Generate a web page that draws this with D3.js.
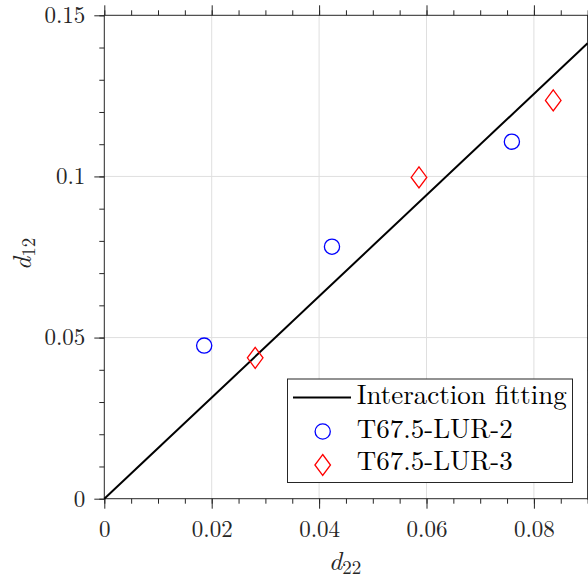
<!DOCTYPE html>
<html>
<head>
<meta charset="utf-8">
<script src="https://cdn.jsdelivr.net/npm/d3@7"></script>
<style>
  html, body { margin: 0; padding: 0; background: #fff; }
  svg { display: block; }
</style>
</head>
<body>
<svg id="chart" width="588" height="579"></svg>
<script>
// Measured pairs (d22, d12) for each specimen
const seriesLUR2_x = [0.0186, 0.0424, 0.0759];
const seriesLUR2_y = [0.0475, 0.0782, 0.1108];
const seriesLUR3_x = [0.0281, 0.0586, 0.0836];
const seriesLUR3_y = [0.0437, 0.0997, 0.1236];

// Linear interaction fit through the origin
const fitSlope = 1.57;
const fitX = [0, 0.09];

const xTicks = [0, 0.02, 0.04, 0.06, 0.08];
const xTickLabels = ["0", "0.02", "0.04", "0.06", "0.08"];
const yTicks = [0, 0.05, 0.1, 0.15];
const yTickLabels = ["0", "0.05", "0.1", "0.15"];

const legendLabels = ["Interaction fitting", "T67.5-LUR-2", "T67.5-LUR-3"];

const FONT = "'Latin Modern Roman', 'CMU Serif', 'Liberation Serif', serif";
const svg = d3.select("#chart").attr("font-family", FONT);
const pLeft = 104.3, pTop = 15.3, pRight = 587.6, pBottom = 498.7;
const axisColor = "#262626";
const tickFont = 23;
const legendFont = 27;

const x = d3.scaleLinear().domain([0, 0.09]).range([pLeft, pRight]);
const y = d3.scaleLinear().domain([0, 0.15]).range([pBottom, pTop]);

const xMinor = d3.range(0, 0.0901, 0.005);
const yMinor = d3.range(0, 0.1501, 0.01);

// grid
const grid = svg.append("g").attr("stroke", "#dfdfdf").attr("stroke-width", 1);
xTicks.filter(v => v > 0).forEach(v => {
  grid.append("line").attr("x1", x(v)).attr("x2", x(v)).attr("y1", pTop).attr("y2", pBottom);
});
yTicks.filter(v => v > 0 && v < 0.15).forEach(v => {
  grid.append("line").attr("x1", pLeft).attr("x2", pRight).attr("y1", y(v)).attr("y2", y(v));
});

// axes with outward ticks on all four sides
function drawAxis(axis, translate) {
  const g = svg.append("g").attr("transform", translate).call(axis)
    .attr("font-family", FONT).attr("font-size", tickFont);
  g.select(".domain").remove();
  g.selectAll("line").attr("stroke", axisColor);
  g.selectAll("text").attr("fill", axisColor);
  return g;
}
const noLabel = () => "";
drawAxis(d3.axisBottom(x).tickValues(xMinor).tickSize(5).tickFormat(noLabel), `translate(0,${pBottom})`);
drawAxis(d3.axisTop(x).tickValues(xMinor).tickSize(5).tickFormat(noLabel), `translate(0,${pTop})`);
drawAxis(d3.axisLeft(y).tickValues(yMinor).tickSize(5).tickFormat(noLabel), `translate(${pLeft},0)`);
drawAxis(d3.axisRight(y).tickValues(yMinor).tickSize(5).tickFormat(noLabel), `translate(${pRight},0)`);

drawAxis(d3.axisBottom(x).tickValues(xTicks).tickSize(10).tickPadding(12)
  .tickFormat((d, i) => xTickLabels[i]), `translate(0,${pBottom})`);
drawAxis(d3.axisTop(x).tickValues(xTicks).tickSize(10).tickFormat(noLabel), `translate(0,${pTop})`);
drawAxis(d3.axisLeft(y).tickValues(yTicks).tickSize(10).tickPadding(9)
  .tickFormat((d, i) => yTickLabels[i]), `translate(${pLeft},0)`);
drawAxis(d3.axisRight(y).tickValues(yTicks).tickSize(10).tickFormat(noLabel), `translate(${pRight},0)`);

// frame
svg.append("rect").attr("x", pLeft).attr("y", pTop)
  .attr("width", pRight - pLeft).attr("height", pBottom - pTop)
  .attr("fill", "none").attr("stroke", axisColor).attr("stroke-width", 1);

// fit line
const line = d3.line().x(d => x(d)).y(d => y(fitSlope * d));
svg.append("path").attr("d", line(fitX)).attr("fill", "none")
  .attr("stroke", "#000").attr("stroke-width", 2);

// markers
const diamond = (cx, cy) => `M${cx},${cy - 10.5}L${cx + 7.8},${cy}L${cx},${cy + 10.5}L${cx - 7.8},${cy}Z`;
svg.append("g").selectAll("circle").data(seriesLUR2_x).join("circle")
  .attr("cx", d => x(d)).attr("cy", (d, i) => y(seriesLUR2_y[i])).attr("r", 7.6)
  .attr("fill", "none").attr("stroke", "#0000ff").attr("stroke-width", 1.3);
svg.append("g").selectAll("path").data(seriesLUR3_x).join("path")
  .attr("d", (d, i) => diamond(x(d), y(seriesLUR3_y[i])))
  .attr("fill", "none").attr("stroke", "#ff0000").attr("stroke-width", 1.3);

// axis titles
const xt = svg.append("text").attr("x", 345).attr("y", 570).attr("text-anchor", "middle")
  .attr("font-size", 26).attr("fill", axisColor);
xt.append("tspan").attr("font-style", "italic").text("d");
xt.append("tspan").attr("font-size", 19).attr("dy", 4).text("22");

const yt = svg.append("text").attr("transform", "translate(31,254) rotate(-90)")
  .attr("text-anchor", "middle").attr("font-size", 26).attr("fill", axisColor);
yt.append("tspan").attr("font-style", "italic").text("d");
yt.append("tspan").attr("font-size", 19).attr("dy", 4).text("12");

// legend
const lg = svg.append("g");
lg.append("rect").attr("x", 287.5).attr("y", 379).attr("width", 285).attr("height", 103.5)
  .attr("fill", "#fff").attr("stroke", axisColor).attr("stroke-width", 1);
const rows = [397.5, 431.5, 465];
const baselines = [404.3, 437.7, 470];
lg.append("line").attr("x1", 293).attr("x2", 351).attr("y1", rows[0]).attr("y2", rows[0])
  .attr("stroke", "#000").attr("stroke-width", 2);
lg.append("circle").attr("cx", 322.7).attr("cy", rows[1]).attr("r", 7.6)
  .attr("fill", "none").attr("stroke", "#0000ff").attr("stroke-width", 1.3);
lg.append("path").attr("d", diamond(322.7, rows[2]))
  .attr("fill", "none").attr("stroke", "#ff0000").attr("stroke-width", 1.3);
legendLabels.forEach((t, i) => {
  lg.append("text").attr("x", 356.7).attr("y", baselines[i])
    .attr("font-size", legendFont).attr("fill", "#000").text(t);
});
</script>
</body>
</html>
